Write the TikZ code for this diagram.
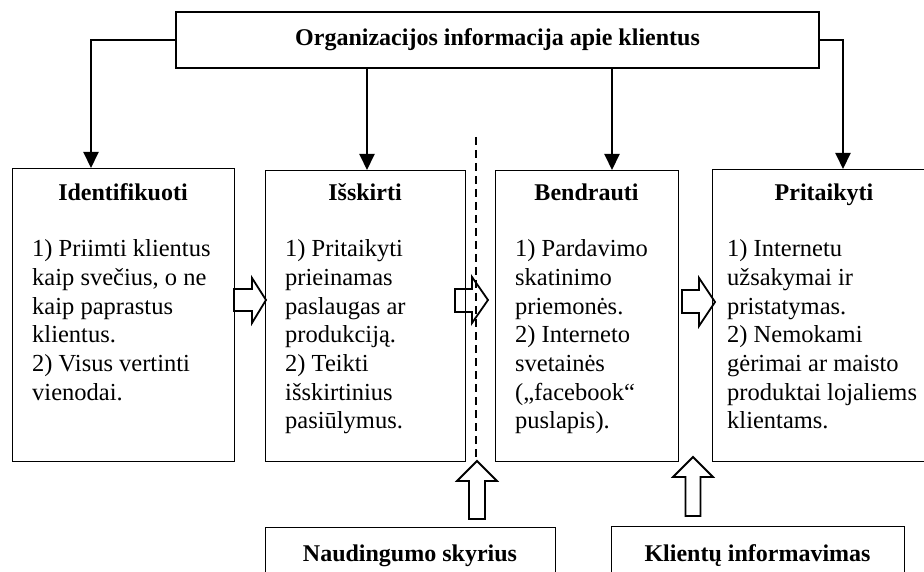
\documentclass[tikz,border=0pt]{standalone}
\usepackage{fontspec}
\setmainfont{Liberation Serif}
\usetikzlibrary{arrows.meta,calc}
\begin{document}
\begin{tikzpicture}[x=1pt,y=-1pt,
  box/.style={draw, line width=1.2pt, inner sep=0pt, anchor=north west},
  conn/.style={line width=2pt, -{Triangle[length=16pt,width=15pt]}},
  blk/.style={draw, line width=1.8pt, line join=miter},
  dashline/.style={line width=2pt, dash pattern=on 8pt off 5pt},
  ttl/.style={font=\fontsize{24}{28}\selectfont\bfseries, inner sep=0pt, anchor=base},
  body/.style={font=\fontsize{24.5}{28.7}\selectfont, align=left, inner sep=0pt, anchor=north west}]
\useasboundingbox (0,0) rectangle (924,572);
\clip (0,0) rectangle (924,572);

% top box
\node[box, minimum width=643pt, minimum height=56pt, anchor=center] (top) at (497.5,40) {};
\node[ttl] (toptxt) at (497.5,46) {Organizacijos informacija apie klientus};

% main boxes
\node[box, minimum width=222pt, minimum height=293pt] (id) at (12,168) {};
\node[ttl] (idt) at (123,201) {Identifikuoti};
\node[body] (idb) at (32,239.5) {1) Priimti klientus\\kaip svečius, o ne\\kaip paprastus\\klientus.\\2) Visus vertinti\\vienodai.};

\node[box, minimum width=200pt, minimum height=291pt] (is) at (265,170) {};
\node[ttl] (ist) at (365,201) {Išskirti};
\node[body] (isb) at (285,239.5) {1) Pritaikyti\\prieinamas\\paslaugas ar\\produkciją.\\2) Teikti\\išskirtinius\\pasiūlymus.};

\node[box, minimum width=183pt, minimum height=291pt] (be) at (495,170) {};
\node[ttl] (bet) at (586.5,201) {Bendrauti};
\node[body] (beb) at (515,239.5) {1) Pardavimo\\skatinimo\\priemonės.\\2) Interneto\\svetainės\\(„facebook“\\puslapis).};

\node[box, minimum width=224pt, minimum height=292pt] (pr) at (712,169) {};
\node[ttl] (prt) at (824,201) {Pritaikyti};
\node[body] (prb) at (727,239.5) {1) Internetu\\užsakymai ir\\pristatymas.\\2) Nemokami\\gėrimai ar maisto\\produktai lojaliems\\klientams.};

% bottom boxes
\node[box, minimum width=290pt, minimum height=80pt] (nau) at (265,527) {};
\node[ttl] (naut) at (410,561) {Naudingumo skyrius};
\node[box, minimum width=293pt, minimum height=80pt] (kli) at (611,526) {};
\node[ttl] (klit) at (757.5,561) {Klientų informavimas};

% connectors from top box
\draw[conn] (top.west) -| (91,0 |- id.north);
\draw[conn] (367,0 |- top.south) -- (367,0 |- is.north);
\draw[conn] (612,0 |- top.south) -- (612,0 |- be.north);
\draw[conn] (top.east) -| (843,0 |- pr.north);

% dashed divider
\coordinate (dtop) at (476,137);
\coordinate (dbot) at (476,461);
\draw[dashline] (dtop) -- (dbot);

% block arrows to the right
\draw[blk] (234,289) -- (252,289) -- (252,278) -- (266,300) -- (252,323) -- (252,311) -- (234,311) -- cycle;
\draw[blk] (455,289) -- (472,289) -- (472,277) -- (488,300) -- (472,323) -- (472,312) -- (455,312) -- cycle;
\draw[blk] (682,290) -- (699,290) -- (699,278) -- (715,302) -- (699,326) -- (699,313) -- (682,313) -- cycle;

% block arrows upward
\draw[blk] (477,461) -- (497,481) -- (485,481) -- (485,519) -- (469,519) -- (469,481) -- (457,481) -- cycle;
\draw[blk] (693,457) -- (713,477) -- (700.5,477) -- (700.5,516) -- (685.5,516) -- (685.5,477) -- (673,477) -- cycle;
\end{tikzpicture}
\end{document}
